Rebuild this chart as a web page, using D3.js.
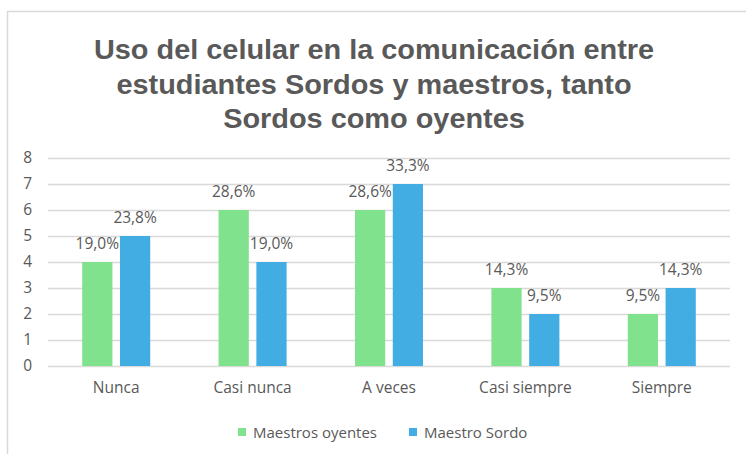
<!DOCTYPE html>
<html>
<head>
<meta charset="utf-8">
<script src="https://cdn.jsdelivr.net/npm/d3@7"></script>
<style>
  body { margin: 0; background: #fff; }
  text { fill: #595959; }
</style>
</head>
<body>
<div id="chart"></div>
<script>
var categories = ['Nunca', 'Casi nunca', 'A veces', 'Casi siempre', 'Siempre'];
var seriesNames = ['Maestros oyentes', 'Maestro Sordo'];
var oyentes = [4, 6, 6, 3, 2];
var sordo = [5, 4, 7, 2, 3];
var oyentesLabels = ['19,0%', '28,6%', '28,6%', '14,3%', '9,5%'];
var sordoLabels = ['23,8%', '19,0%', '33,3%', '9,5%', '14,3%'];
var yTicks = [0, 1, 2, 3, 4, 5, 6, 7, 8];
var titleLines = ['Uso del celular en la comunicación entre',
                  'estudiantes Sordos y maestros, tanto',
                  'Sordos como oyentes'];
var colors = ['#80e28c', '#41ade2'];

var W = 746, H = 454;
var m = { left: 48, right: 16, top: 158, bottom: 88 };
var labelFont = '"Open Sans", sans-serif';

var svg = d3.select('#chart')
  .append('svg')
  .attr('width', W)
  .attr('height', H);

// chart frame
svg.append('path')
  .attr('d', 'M7.5,' + H + 'V11.5H' + W)
  .attr('fill', 'none')
  .attr('stroke', '#d9d9d9')
  .attr('stroke-width', 1.5);

svg.selectAll('.title')
  .data(titleLines)
  .enter()
  .append('text')
  .attr('class', 'title')
  .attr('transform', function(d, i) { return 'translate(374,' + (59 + i * 34.5) + ') scale(1.07,1)'; })
  .attr('text-anchor', 'middle')
  .style('font-family', '"Liberation Sans", Arial, sans-serif')
  .style('font-weight', 'bold')
  .style('font-size', '27px')
  .text(function(d) { return d; });

var x = d3.scaleBand()
  .domain(categories)
  .range([m.left, W - m.right]);

var y = d3.scaleLinear()
  .domain([0, 8])
  .range([H - m.bottom, m.top]);

var sub = d3.scaleBand()
  .domain([0, 1])
  .range([0, 68])
  .paddingInner(0.2);

// gridlines
svg.append('g')
  .selectAll('line')
  .data(yTicks)
  .enter()
  .append('line')
  .attr('x1', m.left)
  .attr('x2', W - m.right)
  .attr('y1', function(d) { return Math.round(y(d)) + 0.5; })
  .attr('y2', function(d) { return Math.round(y(d)) + 0.5; })
  .attr('stroke', '#d9d9d9')
  .attr('stroke-width', 1.5);

var yAxis = svg.append('g')
  .attr('transform', 'translate(' + (m.left - 16) + ',0)')
  .call(d3.axisLeft(y).tickValues(yTicks).tickSize(0).tickPadding(0));
yAxis.select('.domain').remove();
yAxis.selectAll('text')
  .style('font-family', labelFont)
  .style('font-size', '15.5px')
  .attr('fill', '#595959');

var xAxis = svg.append('g')
  .attr('transform', 'translate(0,' + (H - m.bottom) + ')')
  .call(d3.axisBottom(x).tickSize(0).tickPadding(16));
xAxis.select('.domain').remove();
xAxis.selectAll('text')
  .style('font-family', labelFont)
  .style('font-size', '15.5px')
  .attr('fill', '#595959');

var series = [oyentes, sordo];
var labels = [oyentesLabels, sordoLabels];

series.forEach(function(vals, s) {
  var off = (x.bandwidth() - 68) / 2 + sub(s);
  svg.append('g')
    .selectAll('rect')
    .data(vals)
    .enter()
    .append('rect')
    .attr('x', function(d, i) { return x(categories[i]) + off; })
    .attr('y', function(d) { return y(d); })
    .attr('width', sub.bandwidth())
    .attr('height', function(d) { return y(0) - y(d); })
    .attr('fill', colors[s]);

  svg.append('g')
    .selectAll('text')
    .data(vals)
    .enter()
    .append('text')
    .attr('x', function(d, i) { return x(categories[i]) + off + sub.bandwidth() / 2; })
    .attr('y', function(d) { return y(d) - 13; })
    .attr('text-anchor', 'middle')
    .style('font-family', labelFont)
    .style('font-size', '15.5px')
    .text(function(d, i) { return labels[s][i]; });
});

// legend
var legend = svg.append('g')
  .selectAll('g')
  .data(seriesNames)
  .enter()
  .append('g')
  .attr('transform', function(d, i) { return 'translate(' + [238, 409][i] + ',432)'; });
legend.append('rect')
  .attr('x', 0).attr('y', -4)
  .attr('width', 8).attr('height', 8)
  .attr('fill', function(d, i) { return colors[i]; });
legend.append('text')
  .attr('x', 15)
  .attr('y', 5.5)
  .style('font-family', labelFont)
  .style('font-size', '15px')
  .text(function(d) { return d; });
</script>
</body>
</html>
